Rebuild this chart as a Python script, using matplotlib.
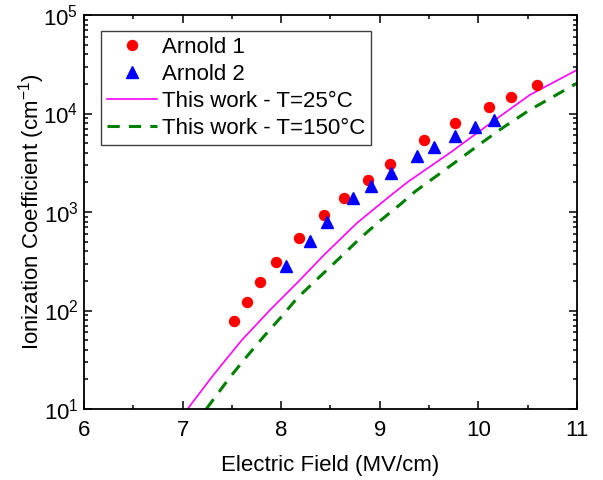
import matplotlib
matplotlib.use("Agg")
import matplotlib.pyplot as plt
from matplotlib.ticker import LogLocator, MultipleLocator, NullFormatter

# Arnold 1 (red circles)
arnold1_E = [7.52, 7.65, 7.79, 7.95, 8.18, 8.43, 8.64, 8.88, 9.10, 9.45, 9.76, 10.11, 10.33, 10.59]
arnold1_a = [79, 121, 196, 308, 548, 933, 1380, 2110, 3050, 5350, 8010, 11600, 14700, 19300]

# Arnold 2 (blue triangles)
arnold2_E = [8.05, 8.29, 8.46, 8.73, 8.91, 9.11, 9.38, 9.55, 9.76, 9.97, 10.16]
arnold2_a = [285, 508, 797, 1380, 1850, 2510, 3730, 4540, 5910, 7240, 8650]

# This work - T=25C
work25_E = [7.05, 7.31, 7.60, 7.89, 8.19, 8.43, 8.77, 9.10, 9.29, 9.71, 10.12, 10.52, 11.0]
work25_a = [10, 22, 50, 102, 204, 363, 776, 1445, 2040, 3980, 7940, 15400, 27700]

# This work - T=150C
work150_E = [7.24, 7.48, 7.65, 7.82, 8.00, 8.16, 8.39, 8.60, 8.80, 9.00, 9.21, 9.36,
             9.59, 9.81, 10.05, 10.25, 10.52, 11.0]
work150_a = [10, 21, 34, 54, 86, 133, 220, 347, 541, 810, 1200, 1620,
             2380, 3450, 5180, 7200, 10860, 20300]

plt.rcParams['font.family'] = ['Liberation Sans', 'DejaVu Sans']
plt.rcParams['mathtext.fontset'] = 'custom'
plt.rcParams['mathtext.rm'] = 'Liberation Sans'
plt.rcParams['mathtext.it'] = 'Liberation Sans:italic'

fig = plt.figure(figsize=(6.03, 4.80), dpi=100)
ax = fig.add_axes([84/603, 1 - 409/480, (577-84)/603, (409-15)/480])

ax.plot(arnold1_E, arnold1_a, 'o', color='#ff0000', markersize=7.2, label='Arnold 1', zorder=3)
ax.plot(arnold2_E, arnold2_a, '^', color='#0000ff', markersize=8, label='Arnold 2', zorder=3)
ax.plot(work25_E, work25_a, '-', color='#ff00ff', linewidth=1.2, label='This work - T=25°C')
ax.plot(work150_E, work150_a, color='#008000', linewidth=2.2, dashes=(4, 3),
        label='This work - T=150°C')

ax.set_yscale('log')
ax.set_xlim(6, 11)
ax.set_ylim(10, 1e5)
ax.xaxis.set_major_locator(MultipleLocator(1))
ax.xaxis.set_minor_locator(MultipleLocator(0.5))
ax.yaxis.set_major_locator(LogLocator(base=10, numticks=10))
ax.yaxis.set_minor_locator(LogLocator(base=10, subs=range(2, 10), numticks=10))
ax.yaxis.set_minor_formatter(NullFormatter())

ax.tick_params(which='both', direction='in', top=True, right=True, labelsize=16, width=1.1)
ax.tick_params(which='major', length=6)
ax.tick_params(which='minor', length=3)
ax.tick_params(axis='x', pad=8)
ax.tick_params(axis='y', pad=4)
for s in ax.spines.values():
    s.set_linewidth(1.3)

ax.set_xlabel('Electric Field (MV/cm)', fontsize=16, labelpad=10)
ax.set_ylabel('Ionization Coefficient (cm$^{-1}$)', fontsize=16, labelpad=-2.5)

leg = ax.legend(loc='upper left', bbox_to_anchor=(17/493, 1 - 16/394), fontsize=16,
                fancybox=False, edgecolor='#404040', framealpha=1,
                handlelength=2.25, borderpad=0.25, borderaxespad=0, labelspacing=0.28,
                handletextpad=0.25)
leg.get_frame().set_linewidth(1.0)

fig.savefig('out.png', dpi=100)
